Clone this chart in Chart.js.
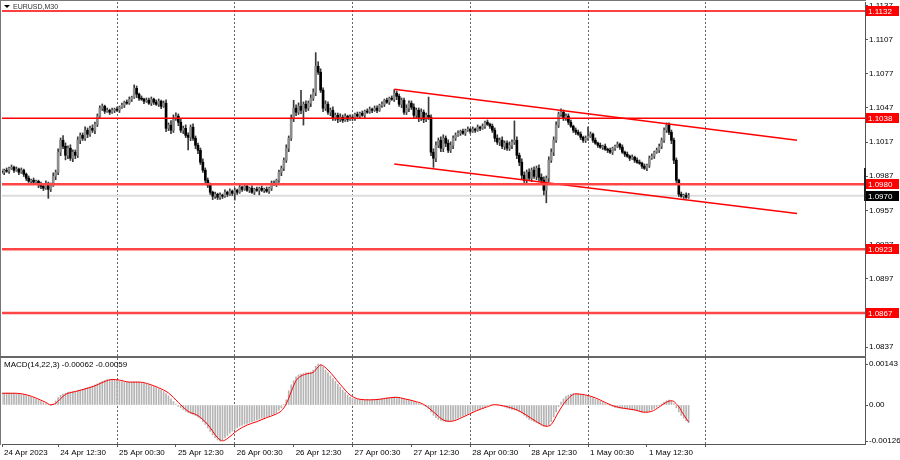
<!DOCTYPE html>
<html>
<head>
<meta charset="utf-8">
<script src="https://cdn.jsdelivr.net/npm/chart.js@4.4.1/dist/chart.umd.min.js"></script>
<style>
	html, body { margin: 0; padding: 0; background: #fff; }
	#wrap { position: relative; width: 900px; height: 460px; overflow: hidden; font-family: "Liberation Sans", Arial, sans-serif; }
	canvas { position: absolute; left: 0; }
	#priceCanvas { top: 0; }
	#macdCanvas { top: 357px; }
	.rule { position: absolute; background: #777; }
	#title { position: absolute; left: 4px; top: 2px; font-size: 7px; line-height: 9px; color: #333; }
	#title span { display: inline-block; width: 0; height: 0; border-left: 3px solid transparent; border-right: 3px solid transparent; border-top: 3px solid #000; margin-right: 3px; vertical-align: 1px; }
	#macdTitle { position: absolute; left: 4px; top: 360px; font-size: 8px; line-height: 10px; color: #000; }
</style>
</head>
<body>
<div id="wrap">
	<canvas id="priceCanvas" width="900" height="357"></canvas>
	<canvas id="macdCanvas" width="900" height="103"></canvas>
	<div class="rule" style="left:0;top:0;width:866px;height:1px;"></div>
	<div class="rule" style="left:0;top:0;width:1px;height:445px;"></div>
	<div class="rule" style="left:0;top:356px;width:866px;height:2px;background:#666;"></div>
	<div class="rule" style="left:864px;top:168px;width:2px;height:33px;background:#222;"></div>
	<div id="title"><span></span>EURUSD,M30</div>
	<div id="macdTitle">MACD(14,22,3) -0.00062 -0.00059</div>
</div>
<script>
// EURUSD M30, 24 Apr 01:00 .. 1 May 21:00 (bar index 2 .. 282)

const firstBar = 2;
const firstOpen = 1.09914;
const pip = 0.0001;

const closes = [
	1.09905, 1.09923, 1.09914, 1.09940, 1.09949, 1.09923, 1.09932, 1.09905, 1.09923, 1.09888,
	1.09853, 1.09826, 1.09835, 1.09818, 1.09826, 1.09800, 1.09782, 1.09765, 1.09809, 1.09756,
	1.09791, 1.09870, 1.09905, 1.10081, 1.10186, 1.10133, 1.10054, 1.10116, 1.10028, 1.10081,
	1.10054, 1.10186, 1.10230, 1.10204, 1.10274, 1.10239, 1.10291, 1.10274, 1.10326, 1.10397,
	1.10467, 1.10484, 1.10441, 1.10449, 1.10432, 1.10449, 1.10458, 1.10449, 1.10476, 1.10493,
	1.10520, 1.10511, 1.10546, 1.10563, 1.10642, 1.10590, 1.10555, 1.10546, 1.10528, 1.10537,
	1.10511, 1.10546, 1.10520, 1.10502, 1.10528, 1.10484, 1.10511, 1.10291, 1.10318, 1.10274,
	1.10379, 1.10397, 1.10344, 1.10274, 1.10291, 1.10230, 1.10212, 1.10300, 1.10204, 1.10142,
	1.10098, 1.09993, 1.09923, 1.09835, 1.09791, 1.09730, 1.09695, 1.09712, 1.09686, 1.09704,
	1.09695, 1.09730, 1.09712, 1.09739, 1.09721, 1.09747, 1.09730, 1.09774, 1.09756, 1.09782,
	1.09747, 1.09765, 1.09730, 1.09756, 1.09747, 1.09765, 1.09747, 1.09756, 1.09739, 1.09765,
	1.09809, 1.09800, 1.09835, 1.09905, 1.09940, 1.10011, 1.10116, 1.10204, 1.10379, 1.10467,
	1.10432, 1.10484, 1.10449, 1.10502, 1.10467, 1.10511, 1.10555, 1.10607, 1.10835, 1.10783,
	1.10625, 1.10467, 1.10502, 1.10432, 1.10449, 1.10379, 1.10405, 1.10370, 1.10388, 1.10362,
	1.10397, 1.10370, 1.10388, 1.10379, 1.10414, 1.10397, 1.10423, 1.10405, 1.10441, 1.10432,
	1.10458, 1.10449, 1.10467, 1.10449, 1.10493, 1.10502, 1.10537, 1.10520, 1.10555, 1.10546,
	1.10599, 1.10572, 1.10502, 1.10537, 1.10432, 1.10467, 1.10511, 1.10476, 1.10405, 1.10449,
	1.10379, 1.10432, 1.10370, 1.10405, 1.10388, 1.10081, 1.10028, 1.10142, 1.10186, 1.10116,
	1.10204, 1.10160, 1.10098, 1.10142, 1.10204, 1.10230, 1.10248, 1.10265, 1.10248, 1.10274,
	1.10283, 1.10265, 1.10283, 1.10274, 1.10300, 1.10291, 1.10309, 1.10344, 1.10326, 1.10309,
	1.10274, 1.10204, 1.10169, 1.10186, 1.10133, 1.10160, 1.10116, 1.10142, 1.10169, 1.10186,
	1.10054, 1.09993, 1.09879, 1.09835, 1.09905, 1.09853, 1.09923, 1.09870, 1.09940, 1.09861,
	1.09835, 1.09747, 1.09853, 1.10011, 1.10081, 1.10186, 1.10318, 1.10414, 1.10432, 1.10379,
	1.10397, 1.10344, 1.10309, 1.10274, 1.10256, 1.10239, 1.10212, 1.10186, 1.10204, 1.10221,
	1.10239, 1.10186, 1.10160, 1.10142, 1.10125, 1.10133, 1.10107, 1.10098, 1.10081, 1.10116,
	1.10133, 1.10151, 1.10125, 1.10081, 1.10063, 1.10046, 1.10028, 1.10037, 1.10011, 1.09993,
	1.09984, 1.09958, 1.09940, 1.09967, 1.10028, 1.10046, 1.10081, 1.10098, 1.10133, 1.10186,
	1.10274, 1.10318, 1.10256, 1.10186, 1.10011, 1.09835, 1.09712, 1.09695, 1.09704, 1.09686,
	1.09700
];

// wick lengths above / below the body, in pips
const wickUp = [
	2, 1, 2, 1, 2, 1, 2, 1, 2, 1,
	1, 2, 1, 2, 1, 1, 2, 1, 2, 1,
	2, 3, 2, 3, 2, 4, 3, 2, 3, 2,
	2, 3, 2, 2, 3, 2, 2, 3, 2, 2,
	2, 2, 1, 2, 1, 2, 1, 2, 1, 2,
	1, 2, 2, 1, 3, 2, 1, 2, 1, 2,
	2, 2, 1, 2, 2, 1, 2, 3, 2, 4,
	3, 3, 2, 3, 2, 3, 2, 2, 3, 2,
	2, 2, 3, 2, 2, 2, 1, 2, 1, 2,
	1, 2, 1, 2, 1, 2, 1, 2, 1, 2,
	2, 1, 2, 1, 2, 1, 2, 1, 2, 1,
	2, 2, 1, 2, 2, 2, 3, 2, 3, 7,
	3, 3, 14, 2, 3, 2, 3, 3, 12, 4,
	3, 2, 3, 2, 2, 3, 2, 2, 3, 2,
	2, 1, 2, 2, 1, 2, 1, 2, 1, 2,
	2, 1, 2, 2, 1, 2, 1, 2, 1, 2,
	3, 2, 2, 2, 2, 3, 2, 2, 3, 2,
	2, 3, 2, 2, 16, 2, 3, 3, 2, 3,
	3, 2, 3, 3, 2, 2, 2, 1, 2, 1,
	2, 1, 2, 1, 2, 1, 2, 1, 2, 1,
	2, 2, 3, 2, 3, 2, 2, 3, 2, 17,
	3, 2, 3, 3, 2, 3, 2, 3, 2, 3,
	3, 3, 2, 3, 3, 3, 3, 2, 3, 2,
	2, 2, 2, 1, 2, 2, 2, 1, 2, 8,
	2, 1, 2, 1, 2, 1, 2, 1, 2, 1,
	1, 2, 1, 2, 1, 2, 1, 2, 1, 2,
	2, 1, 2, 1, 2, 2, 1, 2, 2, 2,
	2, 2, 2, 2, 2, 2, 1, 2, 1, 2,
	2
];
const wickDn = [
	1, 2, 1, 2, 1, 2, 1, 2, 1, 2,
	2, 1, 2, 1, 2, 3, 2, 2, 1, 8,
	2, 1, 3, 2, 3, 2, 4, 3, 2, 3,
	3, 2, 3, 2, 2, 3, 2, 2, 3, 2,
	1, 2, 2, 1, 2, 1, 2, 1, 2, 1,
	2, 1, 1, 2, 1, 3, 2, 1, 2, 1,
	1, 2, 2, 1, 2, 2, 1, 3, 2, 3,
	2, 2, 3, 2, 3, 2, 11, 3, 2, 3,
	3, 2, 2, 3, 2, 2, 3, 2, 2, 2,
	2, 1, 2, 1, 2, 6, 2, 1, 2, 1,
	1, 2, 1, 2, 1, 4, 1, 2, 1, 2,
	2, 1, 2, 2, 3, 2, 2, 3, 2, 3,
	3, 2, 3, 13, 3, 2, 3, 2, 3, 2,
	2, 3, 2, 2, 3, 2, 2, 3, 2, 2,
	1, 2, 1, 2, 2, 1, 2, 1, 2, 1,
	1, 2, 1, 2, 1, 2, 2, 1, 2, 1,
	2, 3, 2, 3, 2, 2, 3, 2, 2, 2,
	3, 2, 3, 2, 2, 3, 8, 3, 2, 3,
	3, 3, 2, 2, 3, 2, 1, 2, 1, 2,
	1, 2, 1, 2, 1, 2, 1, 2, 1, 2,
	2, 3, 2, 3, 2, 3, 2, 2, 3, 2,
	3, 3, 3, 2, 3, 2, 3, 2, 3, 3,
	3, 4, 11, 3, 2, 3, 2, 2, 2, 2,
	2, 2, 1, 2, 2, 1, 2, 2, 2, 2,
	1, 2, 1, 2, 1, 2, 1, 2, 1, 2,
	2, 1, 2, 1, 2, 1, 2, 1, 2, 1,
	1, 2, 1, 2, 2, 1, 2, 1, 2, 2,
	2, 2, 2, 3, 3, 2, 2, 1, 2, 1,
	1
];

// MACD(14,22,3) main line, one value per bar
const macd = [
	0.00041, 0.00042, 0.00042, 0.00042, 0.00041, 0.00041, 0.00040, 0.00039, 0.00037, 0.00036,
	0.00033, 0.00030, 0.00027, 0.00024, 0.00020, 0.00016, 0.00012, 0.00008, 0.00005, 0.00002,
	-0.00001, 0.00004, 0.00014, 0.00026, 0.00034, 0.00038, 0.00041, 0.00044, 0.00046, 0.00047,
	0.00048, 0.00050, 0.00052, 0.00055, 0.00058, 0.00061, 0.00063, 0.00066, 0.00070, 0.00074,
	0.00078, 0.00082, 0.00086, 0.00089, 0.00090, 0.00089, 0.00088, 0.00086, 0.00084, 0.00082,
	0.00080, 0.00079, 0.00079, 0.00079, 0.00080, 0.00080, 0.00079, 0.00077, 0.00075, 0.00073,
	0.00070, 0.00067, 0.00064, 0.00060, 0.00056, 0.00052, 0.00047, 0.00040, 0.00032, 0.00022,
	0.00012, 0.00003, -0.00005, -0.00010, -0.00016, -0.00022, -0.00027, -0.00030, -0.00033, -0.00037,
	-0.00042, -0.00048, -0.00058, -0.00068, -0.00080, -0.00092, -0.00104, -0.00114, -0.00122, -0.00126,
	-0.00122, -0.00114, -0.00106, -0.00098, -0.00091, -0.00085, -0.00079, -0.00074, -0.00070, -0.00067,
	-0.00064, -0.00061, -0.00058, -0.00055, -0.00052, -0.00049, -0.00046, -0.00044, -0.00041, -0.00038,
	-0.00035, -0.00031, -0.00027, -0.00018, -0.00010, 0.00002, 0.00018, 0.00050, 0.00070, 0.00085,
	0.00098, 0.00105, 0.00108, 0.00110, 0.00112, 0.00113, 0.00115, 0.00122, 0.00135, 0.00143,
	0.00140, 0.00132, 0.00122, 0.00112, 0.00102, 0.00092, 0.00082, 0.00072, 0.00062, 0.00052,
	0.00043, 0.00035, 0.00028, 0.00024, 0.00021, 0.00020, 0.00019, 0.00018, 0.00018, 0.00018,
	0.00018, 0.00018, 0.00019, 0.00020, 0.00021, 0.00022, 0.00024, 0.00025, 0.00026, 0.00027,
	0.00028, 0.00027, 0.00025, 0.00023, 0.00020, 0.00018, 0.00017, 0.00015, 0.00012, 0.00009,
	0.00005, 0.00002, -0.00002, -0.00006, -0.00012, -0.00024, -0.00036, -0.00044, -0.00050, -0.00054,
	-0.00056, -0.00058, -0.00058, -0.00057, -0.00054, -0.00050, -0.00046, -0.00042, -0.00038, -0.00034,
	-0.00030, -0.00026, -0.00022, -0.00019, -0.00016, -0.00013, -0.00010, -0.00006, -0.00003, 0.00000,
	0.00002, 0.00002, 0.00001, -0.00001, -0.00004, -0.00007, -0.00010, -0.00013, -0.00015, -0.00017,
	-0.00019, -0.00022, -0.00028, -0.00036, -0.00044, -0.00050, -0.00054, -0.00058, -0.00062, -0.00066,
	-0.00070, -0.00074, -0.00076, -0.00070, -0.00058, -0.00042, -0.00024, -0.00006, 0.00010, 0.00022,
	0.00030, 0.00035, 0.00038, 0.00040, 0.00040, 0.00039, 0.00037, 0.00035, 0.00033, 0.00031,
	0.00028, 0.00025, 0.00021, 0.00017, 0.00013, 0.00009, 0.00005, 0.00002, -0.00002, -0.00005,
	-0.00008, -0.00010, -0.00011, -0.00012, -0.00013, -0.00014, -0.00016, -0.00017, -0.00019, -0.00021,
	-0.00023, -0.00025, -0.00027, -0.00026, -0.00022, -0.00017, -0.00012, -0.00007, -0.00002, 0.00004,
	0.00010, 0.00015, 0.00017, 0.00014, 0.00004, -0.00010, -0.00024, -0.00036, -0.00046, -0.00055,
	-0.00062
];

// signal line at these bars
const sigBars = [2, 8, 12, 16, 20, 22, 24, 26, 28, 32, 36, 40, 44, 47, 50, 54, 58, 62, 66, 70,
	74, 78, 82, 86, 90, 92, 94, 98, 102, 106, 110, 114, 116, 118, 120, 122, 126, 129, 131, 132,
	135, 140, 144, 148, 152, 156, 160, 163, 166, 170, 174, 178, 182, 185, 190, 195, 200, 203, 207, 212,
	216, 220, 224, 226, 229, 232, 236, 240, 244, 248, 252, 256, 260, 264, 267, 270, 273, 275, 278, 280, 282];
const sigVals = [0.00041, 0.00041, 0.00036, 0.00024, 0.00009, 0.00001, 0.00006, 0.00022, 0.00037, 0.00047,
	0.00056, 0.00067, 0.00082, 0.00089, 0.00087, 0.00080, 0.00080, 0.00073, 0.00060, 0.00042,
	0.00009, -0.00022, -0.00037, -0.00068, -0.00114, -0.00125, -0.00117, -0.00089, -0.00070, -0.00058,
	-0.00044, -0.00031, -0.00020, 0.00004, 0.00046, 0.00085, 0.00108, 0.00114, 0.00133, 0.00140,
	0.00122, 0.00072, 0.00035, 0.00020, 0.00018, 0.00020, 0.00025, 0.00027, 0.00022, 0.00014,
	0.00002, -0.00024, -0.00052, -0.00057, -0.00042, -0.00022, -0.00006, 0.00001, -0.00004, -0.00017,
	-0.00036, -0.00058, -0.00074, -0.00068, -0.00024, 0.00014, 0.00039, 0.00035, 0.00025, 0.00009,
	-0.00005, -0.00012, -0.00017, -0.00025, -0.00022, -0.00007, 0.00010, 0.00015, -0.00006, -0.00034, -0.00059];

const levels = [1.1132, 1.1038, 1.0980, 1.0923, 1.0867];
const lastPrice = 1.0970;
const channelTop = [{ x: 162, y: 1.10633 }, { x: 326.2, y: 1.10186 }];
const channelBottom = [{ x: 162, y: 1.09977 }, { x: 326.2, y: 1.09543 }];

const priceTicks = [1.1137, 1.1107, 1.1077, 1.1047, 1.1017, 1.0987, 1.0957, 1.0927, 1.0897, 1.0867, 1.0837];
const macdTicks = [0.00143, 0, -0.00126];
const timeLabels = ['24 Apr 2023', '24 Apr 12:30', '25 Apr 00:30', '25 Apr 12:30', '26 Apr 00:30', '26 Apr 12:30',
	'27 Apr 00:30', '27 Apr 12:30', '28 Apr 00:30', '28 Apr 12:30', '1 May 00:30', '1 May 12:30'];
const timeLabelBars = [2.12, 25, 49, 73, 97, 121, 145, 169, 193, 217, 241, 265];
const gridBars = [49, 97, 145, 193, 241, 289];

// visible window
const xMin = 2.12, xMax = 353.9;
const priceMin = 1.08293, priceMax = 1.11399;
const macdMin = -0.00136, macdMax = 0.00164;

const FONT = { family: '"Liberation Sans", Arial, sans-serif', size: 8 };
const levelColors = ['#ff0000', '#ff0000', '#ff4646', '#ff4646', '#ff4646'];
const levelWidths = [1.5, 1.5, 2.5, 2.5, 2.5];

const bars = closes.map((c, k) => firstBar + k);
const opens = closes.map((c, k) => k === 0 ? firstOpen : closes[k - 1]);
const highs = closes.map((c, k) => Math.max(opens[k], c) + wickUp[k] * pip);
const lows = closes.map((c, k) => Math.min(opens[k], c) - wickDn[k] * pip);

function hideAxisPadding(s) {
	s.paddingLeft = 0; s.paddingRight = 0; s.paddingTop = 0; s.paddingBottom = 0;
}

const priceBoxes = {
	id: 'priceBoxes',
	afterDraw(chart) {
		const ctx = chart.ctx;
		const ys = chart.scales.y;
		ctx.save();
		ctx.font = '8px "Liberation Sans", Arial, sans-serif';
		ctx.textBaseline = 'middle';
		ctx.textAlign = 'left';
		const box = (v, bg) => {
			const py = Math.round(ys.getPixelForValue(v));
			ctx.fillStyle = bg;
			ctx.fillRect(866, py - 5, 33, 10);
			ctx.fillStyle = '#fff';
			ctx.fillText(v.toFixed(4), 868, py + 0.5);
		};
		levels.forEach(v => box(v, '#ff0000'));
		box(lastPrice, '#000');
		ctx.restore();
	}
};

new Chart(document.getElementById('priceCanvas'), {
	type: 'bar',
	data: {
		datasets: [
			...levels.map((v, i) => ({
				type: 'line',
				data: [{ x: xMin, y: v }, { x: xMax, y: v }],
				borderColor: levelColors[i],
				borderWidth: levelWidths[i],
				pointRadius: 0,
				order: 0
			})),
			{
				type: 'line', data: channelTop, borderColor: '#ff0000', borderWidth: 1.5, pointRadius: 0, order: 0
			},
			{
				type: 'line', data: channelBottom, borderColor: '#ff0000', borderWidth: 1.5, pointRadius: 0, order: 0
			},
			{
				label: 'wicks',
				data: bars.map((x, k) => ({ x, y: [lows[k], highs[k]] })),
				backgroundColor: '#3a3a3a',
				barThickness: 1,
				grouped: false,
				order: 2
			},
			{
				label: 'bodies',
				data: bars.map((x, k) => ({ x, y: [opens[k], closes[k]] })),
				backgroundColor: closes.map((c, k) => c > opens[k] ? '#8c8c8c' : '#000'),
				barThickness: 2,
				minBarLength: 1,
				grouped: false,
				order: 1
			},
			{
				type: 'line',
				data: [{ x: xMin, y: lastPrice }, { x: xMax, y: lastPrice }],
				borderColor: '#dcdcdc',
				borderWidth: 2,
				pointRadius: 0,
				order: 5
			}
		]
	},
	options: {
		responsive: false,
		animation: false,
		events: [],
		layout: { padding: { left: 2, top: 2, right: 0, bottom: 1 } },
		plugins: { legend: { display: false }, tooltip: { enabled: false } },
		scales: {
			x: {
				type: 'linear',
				min: xMin,
				max: xMax,
				offset: false,
				afterBuildTicks: s => { s.ticks = gridBars.map(v => ({ value: v })); },
				afterFit: s => { s.height = 0; hideAxisPadding(s); },
				ticks: { display: false },
				grid: { offset: false, color: '#666', drawTicks: false, lineWidth: 1 },
				border: { display: false, dash: [2, 2] }
			},
			y: {
				type: 'linear',
				position: 'right',
				min: priceMin,
				max: priceMax,
				afterBuildTicks: s => { s.ticks = priceTicks.map(v => ({ value: v })); },
				afterFit: s => { s.width = 35; hideAxisPadding(s); },
				ticks: {
					font: FONT, color: '#000', padding: 1,
					callback: v => v.toFixed(4)
				},
				grid: { drawOnChartArea: false, drawTicks: true, tickLength: 3, tickColor: '#555' },
				border: { display: true, color: '#555', width: 1 }
			}
		}
	},
	plugins: [priceBoxes]
});

const macdTickBars = timeLabelBars.concat([289]);

new Chart(document.getElementById('macdCanvas'), {
	type: 'bar',
	data: {
		datasets: [
			{
				type: 'line',
				data: sigBars.map((x, i) => ({ x, y: sigVals[i] })),
				borderColor: '#ff0000',
				borderWidth: 1,
				pointRadius: 0,
				tension: 0.4,
				cubicInterpolationMode: 'monotone',
				order: 0
			},
			{
				data: bars.map((x, k) => ({ x, y: macd[k] })),
				backgroundColor: '#b4b4b4',
				barThickness: 1,
				grouped: false,
				order: 1
			}
		]
	},
	options: {
		responsive: false,
		animation: false,
		events: [],
		layout: { padding: { left: 2, top: 1, right: 0, bottom: 0 } },
		plugins: { legend: { display: false }, tooltip: { enabled: false } },
		scales: {
			x: {
				type: 'linear',
				min: xMin,
				max: xMax,
				offset: false,
				afterBuildTicks: s => { s.ticks = macdTickBars.map(v => ({ value: v })); },
				afterFit: s => { s.height = 16; hideAxisPadding(s); },
				ticks: {
					font: FONT, color: '#000', padding: 1,
					align: 'start', labelOffset: 2,
					maxRotation: 0, minRotation: 0, autoSkip: false,
					callback: (v, i) => timeLabels[i] || ''
				},
				grid: {
					offset: false,
					color: ctx => (ctx.tick && gridBars.includes(ctx.tick.value)) ? '#666' : 'rgba(0,0,0,0)',
					tickColor: '#555',
					tickLength: 3,
					tickBorderDash: [3, 0],
					lineWidth: 1
				},
				border: { display: true, color: '#555', width: 1, dash: [2, 2] }
			},
			y: {
				type: 'linear',
				position: 'right',
				min: macdMin,
				max: macdMax,
				afterBuildTicks: s => { s.ticks = macdTicks.map(v => ({ value: v })); },
				afterFit: s => { s.width = 35; hideAxisPadding(s); },
				ticks: {
					font: FONT, color: '#000', padding: 1,
					callback: v => v === 0 ? '0.00' : v.toFixed(5)
				},
				grid: { drawOnChartArea: false, drawTicks: true, tickLength: 3, tickColor: '#555' },
				border: { display: true, color: '#555', width: 1 }
			}
		}
	}
});
</script>
</body>
</html>
